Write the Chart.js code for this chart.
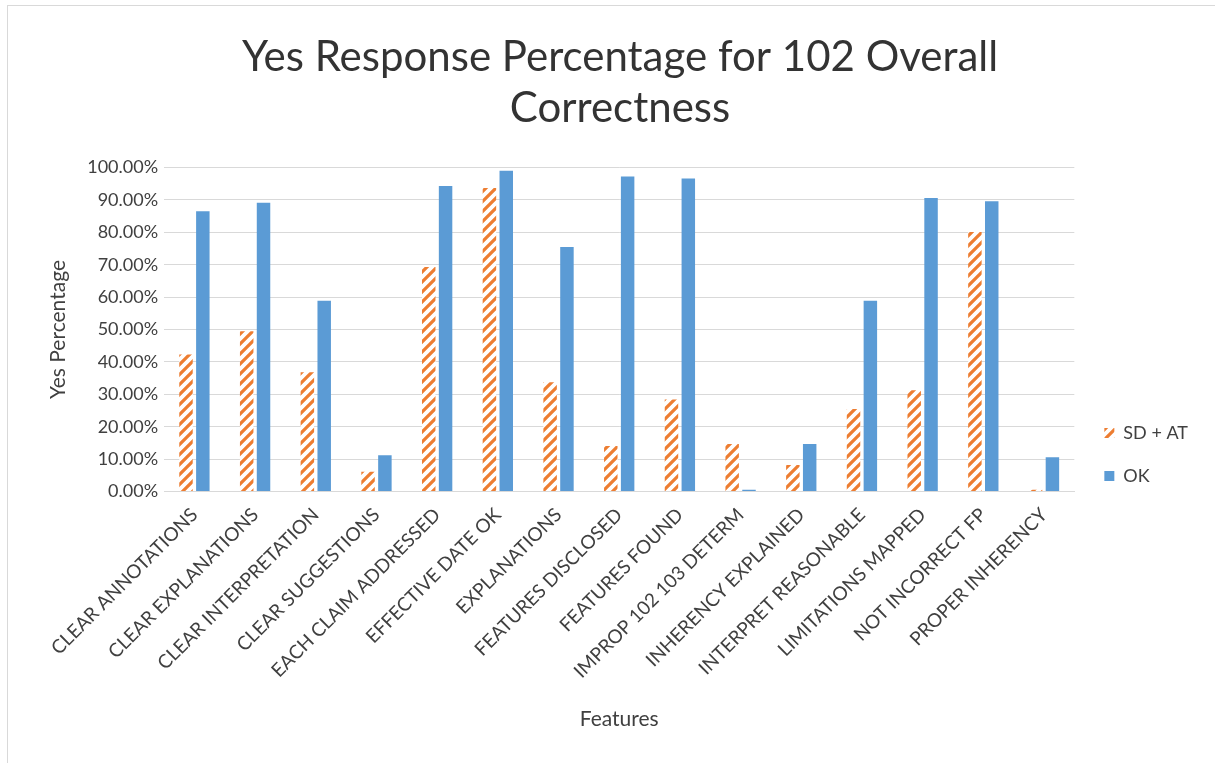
<!DOCTYPE html>
<html>
<head>
<meta charset="utf-8">
<script src="https://cdn.jsdelivr.net/npm/chart.js@4/dist/chart.umd.min.js"></script>
<style>
  html, body { margin: 0; padding: 0; background: #fff; }
  #wrap { position: absolute; left: 7px; top: 5px; width: 1208px; height: 758px;
          border-left: 1px solid #d9d9d9; border-top: 1px solid #d9d9d9; }
  canvas { display: block; }
</style>
</head>
<body>
<div id="wrap"><canvas id="yesChart" width="1208" height="758"></canvas></div>
<script>
// chart data
const categories = [
  'CLEAR ANNOTATIONS', 'CLEAR EXPLANATIONS', 'CLEAR INTERPRETATION', 'CLEAR SUGGESTIONS',
  'EACH CLAIM ADDRESSED', 'EFFECTIVE DATE OK', 'EXPLANATIONS', 'FEATURES DISCLOSED',
  'FEATURES FOUND', 'IMPROP 102 103 DETERM', 'INHERENCY EXPLAINED', 'INTERPRET REASONABLE',
  'LIMITATIONS MAPPED', 'NOT INCORRECT FP', 'PROPER INHERENCY'
];
const sdAtValues = [42.3, 49.5, 36.8, 6.1, 69.3, 93.7, 33.7, 14.1, 28.4, 14.7, 8.2, 25.5, 31.3, 80.1, 0.6];
const okValues   = [86.5, 89.1, 58.9, 11.2, 94.3, 99.0, 75.5, 97.2, 96.6, 0.6, 14.7, 58.9, 90.6, 89.6, 10.6];
const seriesNames = ['SD + AT', 'OK'];
const titleLines = ['Yes Response Percentage for 102 Overall', 'Correctness'];

const FONT = "Lato, 'Open Sans', sans-serif";
const TEXT = '#404040';

// orange "/" stripes on white, like the Excel pattern fill
function stripes(color) {
  const s = 10;
  const c = document.createElement('canvas');
  c.width = s; c.height = s;
  const g = c.getContext('2d');
  g.fillStyle = '#fff';
  g.fillRect(0, 0, s, s);
  g.strokeStyle = color;
  g.lineWidth = 3.2;
  g.beginPath();
  g.moveTo(0, s); g.lineTo(s, 0);
  g.moveTo(-2, 2); g.lineTo(2, -2);
  g.moveTo(s - 2, s + 2); g.lineTo(s + 2, s - 2);
  g.stroke();
  return document.getElementById('yesChart').getContext('2d').createPattern(c, 'repeat');
}

const orangeStripes = stripes('#ED7D31');

const ctx = document.getElementById('yesChart').getContext('2d');
const yesChart = new Chart(ctx, {
  type: 'bar',
  data: {
    labels: categories,
    datasets: [{
      label: seriesNames[0],
      data: sdAtValues,
      backgroundColor: orangeStripes,
      barPercentage: 0.8,
      categoryPercentage: 0.555
    }, {
      label: seriesNames[1],
      data: okValues,
      backgroundColor: '#5B9BD5',
      barPercentage: 0.8,
      categoryPercentage: 0.555
    }]
  },
  options: {
    responsive: false,
    animation: false,
    layout: { padding: { left: 34, right: 18, top: 8, bottom: 28 } },
    plugins: {
      title: {
        display: true,
        text: titleLines,
        color: '#333',
        font: { family: FONT, size: 42, weight: 'normal', lineHeight: 1.22 },
        padding: { top: 18, bottom: 33 }
      },
      legend: {
        position: 'right',
        align: 'start',
        // empty title only used as a spacer to push the items down
        title: { display: true, text: '', font: { size: 12, lineHeight: 1 }, padding: { top: 0, bottom: 373 } },
        labels: {
          color: TEXT,
          font: { family: FONT, size: 18 },
          boxWidth: 10,
          boxHeight: 10,
          padding: 25
        }
      },
      tooltip: { enabled: false }
    },
    scales: {
      x: {
        grid: { display: false, drawTicks: false },
        border: { color: '#d9d9d9' },
        ticks: {
          color: TEXT,
          font: { family: FONT, size: 19 },
          minRotation: 45,
          maxRotation: 45,
          autoSkip: false,
          padding: 12
        },
        title: {
          display: true,
          text: 'Features',
          color: TEXT,
          font: { family: FONT, size: 21 },
          padding: { top: 12 }
        }
      },
      y: {
        min: 0,
        max: 100,
        grid: { color: '#d9d9d9', drawTicks: false },
        border: { display: false },
        ticks: {
          stepSize: 10,
          color: TEXT,
          font: { family: FONT, size: 18 },
          padding: 6,
          callback: v => v.toFixed(2) + '%'
        },
        title: {
          display: true,
          text: 'Yes Percentage',
          color: TEXT,
          font: { family: FONT, size: 21 },
          padding: { bottom: 10 }
        }
      },
      // blank strip between the plot and the legend
      gap: {
        position: 'right',
        display: true,
        grid: { display: false },
        border: { display: false },
        ticks: { display: false },
        afterFit: s => { s.width = 5; }
      }
    }
  }
});
</script>
</body>
</html>
